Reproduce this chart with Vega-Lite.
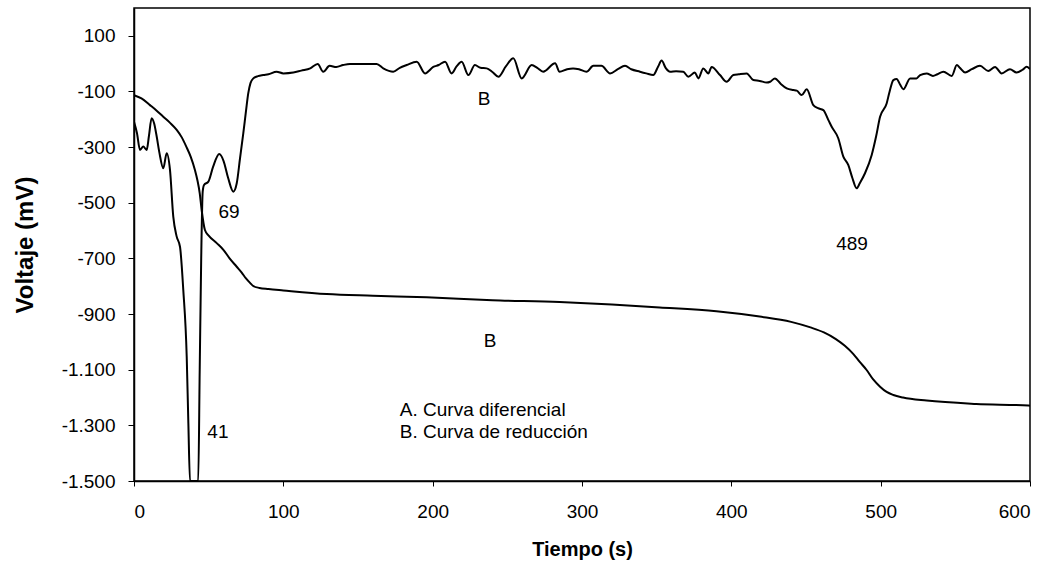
{
  "$schema": "https://vega.github.io/schema/vega-lite/v6.json",
  "autosize": "none",
  "width": 896,
  "height": 473,
  "padding": {"left": 134, "top": 8, "right": 20, "bottom": 85},
  "background": "white",
  "config": {
    "font": "Liberation Sans",
    "view": {"stroke": "black", "strokeWidth": 1.5},
    "axis": {
      "grid": false,
      "domainColor": "black",
      "domainWidth": 1.5,
      "tickColor": "black",
      "tickWidth": 1,
      "labelColor": "black",
      "labelFont": "Liberation Sans",
      "labelFontSize": 19,
      "titleColor": "black",
      "titleFont": "Liberation Sans",
      "titleFontWeight": "bold"
    }
  },
  "datasets": {
    "curves": [
      {"serie": "A", "t": 0, "v": -209},
      {"serie": "A", "t": 2, "v": -250},
      {"serie": "A", "t": 4, "v": -310},
      {"serie": "A", "t": 6.2, "v": -298},
      {"serie": "A", "t": 8.5, "v": -310},
      {"serie": "A", "t": 10, "v": -260},
      {"serie": "A", "t": 11.8, "v": -196},
      {"serie": "A", "t": 13.5, "v": -215},
      {"serie": "A", "t": 15.2, "v": -262},
      {"serie": "A", "t": 17, "v": -320},
      {"serie": "A", "t": 19.6, "v": -376},
      {"serie": "A", "t": 21.9, "v": -322},
      {"serie": "A", "t": 24.1, "v": -382},
      {"serie": "A", "t": 26.3, "v": -550},
      {"serie": "A", "t": 28.5, "v": -620},
      {"serie": "A", "t": 30.8, "v": -658},
      {"serie": "A", "t": 33, "v": -813},
      {"serie": "A", "t": 35.3, "v": -1053},
      {"serie": "A", "t": 36.4, "v": -1292},
      {"serie": "A", "t": 37.5, "v": -1500},
      {"serie": "A", "t": 43, "v": -1500},
      {"serie": "A", "t": 44, "v": -1100},
      {"serie": "A", "t": 45, "v": -700},
      {"serie": "A", "t": 46, "v": -460},
      {"serie": "A", "t": 46.9, "v": -436},
      {"serie": "A", "t": 49.8, "v": -424},
      {"serie": "A", "t": 53, "v": -370},
      {"serie": "A", "t": 57.1, "v": -325},
      {"serie": "A", "t": 60, "v": -350},
      {"serie": "A", "t": 63, "v": -410},
      {"serie": "A", "t": 66.5, "v": -460},
      {"serie": "A", "t": 68.8, "v": -430},
      {"serie": "A", "t": 71, "v": -340},
      {"serie": "A", "t": 73.2, "v": -250},
      {"serie": "A", "t": 75, "v": -170},
      {"serie": "A", "t": 76.5, "v": -107},
      {"serie": "A", "t": 78, "v": -70},
      {"serie": "A", "t": 79.9, "v": -53},
      {"serie": "A", "t": 83, "v": -45},
      {"serie": "A", "t": 86.6, "v": -41},
      {"serie": "A", "t": 90, "v": -38},
      {"serie": "A", "t": 95.5, "v": -29},
      {"serie": "A", "t": 100, "v": -35},
      {"serie": "A", "t": 106.7, "v": -32},
      {"serie": "A", "t": 112, "v": -25},
      {"serie": "A", "t": 118, "v": -17},
      {"serie": "A", "t": 123, "v": -1},
      {"serie": "A", "t": 126.7, "v": -29},
      {"serie": "A", "t": 131, "v": -8},
      {"serie": "A", "t": 135.5, "v": -12},
      {"serie": "A", "t": 140, "v": -5},
      {"serie": "A", "t": 144.6, "v": -1},
      {"serie": "A", "t": 155, "v": -1},
      {"serie": "A", "t": 162.5, "v": -1},
      {"serie": "A", "t": 166.9, "v": -17},
      {"serie": "A", "t": 173.6, "v": -29},
      {"serie": "A", "t": 178, "v": -15},
      {"serie": "A", "t": 182.6, "v": -5},
      {"serie": "A", "t": 189.3, "v": 7},
      {"serie": "A", "t": 194.9, "v": -35},
      {"serie": "A", "t": 200.4, "v": -12},
      {"serie": "A", "t": 204, "v": -5},
      {"serie": "A", "t": 208.3, "v": 7},
      {"serie": "A", "t": 212.7, "v": -35},
      {"serie": "A", "t": 216, "v": -10},
      {"serie": "A", "t": 219.4, "v": 7},
      {"serie": "A", "t": 223.9, "v": -41},
      {"serie": "A", "t": 228.3, "v": -5},
      {"serie": "A", "t": 232, "v": -15},
      {"serie": "A", "t": 236.2, "v": -17},
      {"serie": "A", "t": 240, "v": -30},
      {"serie": "A", "t": 244, "v": -47},
      {"serie": "A", "t": 249, "v": -10},
      {"serie": "A", "t": 254, "v": 19},
      {"serie": "A", "t": 259.6, "v": -53},
      {"serie": "A", "t": 266.3, "v": -5},
      {"serie": "A", "t": 270, "v": -15},
      {"serie": "A", "t": 274, "v": -29},
      {"serie": "A", "t": 282, "v": 1},
      {"serie": "A", "t": 285, "v": -29},
      {"serie": "A", "t": 290, "v": -20},
      {"serie": "A", "t": 294, "v": -17},
      {"serie": "A", "t": 298, "v": -20},
      {"serie": "A", "t": 303, "v": -29},
      {"serie": "A", "t": 307.6, "v": -8},
      {"serie": "A", "t": 313, "v": -8},
      {"serie": "A", "t": 318.8, "v": -35},
      {"serie": "A", "t": 324, "v": -20},
      {"serie": "A", "t": 328.8, "v": -8},
      {"serie": "A", "t": 333, "v": -20},
      {"serie": "A", "t": 338.8, "v": -29},
      {"serie": "A", "t": 343, "v": -35},
      {"serie": "A", "t": 347.7, "v": -41},
      {"serie": "A", "t": 351, "v": -10},
      {"serie": "A", "t": 353.3, "v": 11},
      {"serie": "A", "t": 356, "v": -15},
      {"serie": "A", "t": 359, "v": -29},
      {"serie": "A", "t": 363, "v": -27},
      {"serie": "A", "t": 367.8, "v": -29},
      {"serie": "A", "t": 371.2, "v": -47},
      {"serie": "A", "t": 375.6, "v": -32},
      {"serie": "A", "t": 377.9, "v": -53},
      {"serie": "A", "t": 381.2, "v": -17},
      {"serie": "A", "t": 384.6, "v": -35},
      {"serie": "A", "t": 386.8, "v": -12},
      {"serie": "A", "t": 392.4, "v": -41},
      {"serie": "A", "t": 396.9, "v": -65},
      {"serie": "A", "t": 401.3, "v": -41},
      {"serie": "A", "t": 405, "v": -38},
      {"serie": "A", "t": 410.3, "v": -35},
      {"serie": "A", "t": 414.7, "v": -59},
      {"serie": "A", "t": 419, "v": -62},
      {"serie": "A", "t": 423.7, "v": -68},
      {"serie": "A", "t": 426, "v": -65},
      {"serie": "A", "t": 429.2, "v": -53},
      {"serie": "A", "t": 433, "v": -72},
      {"serie": "A", "t": 437.1, "v": -89},
      {"serie": "A", "t": 441.5, "v": -95},
      {"serie": "A", "t": 443.8, "v": -97},
      {"serie": "A", "t": 447.1, "v": -113},
      {"serie": "A", "t": 450.5, "v": -92},
      {"serie": "A", "t": 454.9, "v": -149},
      {"serie": "A", "t": 458, "v": -160},
      {"serie": "A", "t": 461.6, "v": -167},
      {"serie": "A", "t": 465, "v": -203},
      {"serie": "A", "t": 467.2, "v": -227},
      {"serie": "A", "t": 471.6, "v": -268},
      {"serie": "A", "t": 475, "v": -334},
      {"serie": "A", "t": 478.3, "v": -364},
      {"serie": "A", "t": 481, "v": -410},
      {"serie": "A", "t": 483.9, "v": -448},
      {"serie": "A", "t": 486, "v": -430},
      {"serie": "A", "t": 489.5, "v": -394},
      {"serie": "A", "t": 494, "v": -328},
      {"serie": "A", "t": 497, "v": -260},
      {"serie": "A", "t": 499.6, "v": -191},
      {"serie": "A", "t": 504, "v": -143},
      {"serie": "A", "t": 506, "v": -100},
      {"serie": "A", "t": 508.5, "v": -59},
      {"serie": "A", "t": 510.7, "v": -55},
      {"serie": "A", "t": 513, "v": -75},
      {"serie": "A", "t": 515.2, "v": -92},
      {"serie": "A", "t": 519.7, "v": -53},
      {"serie": "A", "t": 524, "v": -53},
      {"serie": "A", "t": 526.4, "v": -41},
      {"serie": "A", "t": 530.8, "v": -35},
      {"serie": "A", "t": 535, "v": -44},
      {"serie": "A", "t": 538, "v": -38},
      {"serie": "A", "t": 542, "v": -29},
      {"serie": "A", "t": 547.6, "v": -44},
      {"serie": "A", "t": 551, "v": -5},
      {"serie": "A", "t": 553, "v": -15},
      {"serie": "A", "t": 556.5, "v": -32},
      {"serie": "A", "t": 561, "v": -20},
      {"serie": "A", "t": 566.5, "v": -8},
      {"serie": "A", "t": 572, "v": -26},
      {"serie": "A", "t": 576.6, "v": -12},
      {"serie": "A", "t": 581, "v": -35},
      {"serie": "A", "t": 586.6, "v": -20},
      {"serie": "A", "t": 591, "v": -32},
      {"serie": "A", "t": 595, "v": -22},
      {"serie": "A", "t": 597.8, "v": -11},
      {"serie": "A", "t": 600, "v": -20},
      {"serie": "B", "t": 0, "v": -113},
      {"serie": "B", "t": 5, "v": -125},
      {"serie": "B", "t": 10.7, "v": -149},
      {"serie": "B", "t": 15, "v": -168},
      {"serie": "B", "t": 19.6, "v": -191},
      {"serie": "B", "t": 24, "v": -212},
      {"serie": "B", "t": 28.6, "v": -238},
      {"serie": "B", "t": 32, "v": -265},
      {"serie": "B", "t": 35, "v": -298},
      {"serie": "B", "t": 38, "v": -335},
      {"serie": "B", "t": 40.8, "v": -382},
      {"serie": "B", "t": 42.5, "v": -420},
      {"serie": "B", "t": 44, "v": -465},
      {"serie": "B", "t": 45.3, "v": -526},
      {"serie": "B", "t": 47.5, "v": -598},
      {"serie": "B", "t": 50, "v": -618},
      {"serie": "B", "t": 55.4, "v": -645},
      {"serie": "B", "t": 60, "v": -670},
      {"serie": "B", "t": 64, "v": -700},
      {"serie": "B", "t": 68.8, "v": -730},
      {"serie": "B", "t": 72, "v": -750},
      {"serie": "B", "t": 75, "v": -772},
      {"serie": "B", "t": 77.7, "v": -788},
      {"serie": "B", "t": 80, "v": -800},
      {"serie": "B", "t": 84, "v": -806},
      {"serie": "B", "t": 90, "v": -810},
      {"serie": "B", "t": 100, "v": -815},
      {"serie": "B", "t": 129, "v": -828},
      {"serie": "B", "t": 160, "v": -834},
      {"serie": "B", "t": 196, "v": -840},
      {"serie": "B", "t": 240, "v": -850},
      {"serie": "B", "t": 285, "v": -857},
      {"serie": "B", "t": 320, "v": -866},
      {"serie": "B", "t": 352, "v": -876},
      {"serie": "B", "t": 390, "v": -890},
      {"serie": "B", "t": 419, "v": -909},
      {"serie": "B", "t": 440, "v": -928},
      {"serie": "B", "t": 453, "v": -948},
      {"serie": "B", "t": 462, "v": -966},
      {"serie": "B", "t": 470, "v": -990},
      {"serie": "B", "t": 476, "v": -1014},
      {"serie": "B", "t": 481.6, "v": -1043},
      {"serie": "B", "t": 486, "v": -1072},
      {"serie": "B", "t": 490.6, "v": -1101},
      {"serie": "B", "t": 495, "v": -1135},
      {"serie": "B", "t": 499.6, "v": -1161},
      {"serie": "B", "t": 504, "v": -1180},
      {"serie": "B", "t": 508.5, "v": -1191},
      {"serie": "B", "t": 515, "v": -1200},
      {"serie": "B", "t": 530.8, "v": -1211},
      {"serie": "B", "t": 564, "v": -1223},
      {"serie": "B", "t": 599, "v": -1229},
      {"serie": "B", "t": 600, "v": -1230}
    ],
    "labels": [
      {"t": 63.6, "v": -533, "label": "69"},
      {"t": 56.2, "v": -1324, "label": "41"},
      {"t": 480.8, "v": -648, "label": "489"},
      {"t": 234.4, "v": -127, "label": "B"},
      {"t": 238.4, "v": -997, "label": "B"}
    ],
    "legend": [
      {"t": 178, "v": -1245, "label": "A. Curva diferencial"},
      {"t": 178, "v": -1324, "label": "B. Curva de reducción"}
    ]
  },
  "layer": [
    {
      "data": {"name": "curves"},
      "mark": {"type": "line", "color": "black", "strokeWidth": 2, "clip": true, "interpolate": "monotone"},
      "encoding": {
        "x": {
          "field": "t", "type": "quantitative",
          "scale": {"domain": [0, 600], "nice": false, "zero": false},
          "axis": {
            "values": [0, 100, 200, 300, 400, 500, 600],
            "title": "Tiempo (s)",
            "titleFontSize": 20,
            "titlePadding": 18,
            "tickSize": 5,
            "labelPadding": 16
          }
        },
        "y": {
          "field": "v", "type": "quantitative",
          "scale": {"domain": [-1500, 200], "nice": false, "zero": false},
          "axis": {
            "values": [-1500, -1300, -1100, -900, -700, -500, -300, -100, 100],
            "labelExpr": "datum.value <= -1000 ? '-1.' + substring(toString(-datum.value), 1) : toString(datum.value)",
            "title": "Voltaje (mV)",
            "titleFontSize": 24,
            "titlePadding": 24,
            "tickSize": 6,
            "labelPadding": 13
          }
        },
        "detail": {"field": "serie", "type": "nominal"}
      }
    },
    {
      "data": {"name": "labels"},
      "mark": {"type": "text", "fontSize": 19, "color": "black", "align": "center", "baseline": "middle"},
      "encoding": {
        "x": {"field": "t", "type": "quantitative"},
        "y": {"field": "v", "type": "quantitative"},
        "text": {"field": "label"}
      }
    },
    {
      "data": {"name": "legend"},
      "mark": {"type": "text", "fontSize": 19, "color": "black", "align": "left", "baseline": "middle"},
      "encoding": {
        "x": {"field": "t", "type": "quantitative"},
        "y": {"field": "v", "type": "quantitative"},
        "text": {"field": "label"}
      }
    }
  ]
}
